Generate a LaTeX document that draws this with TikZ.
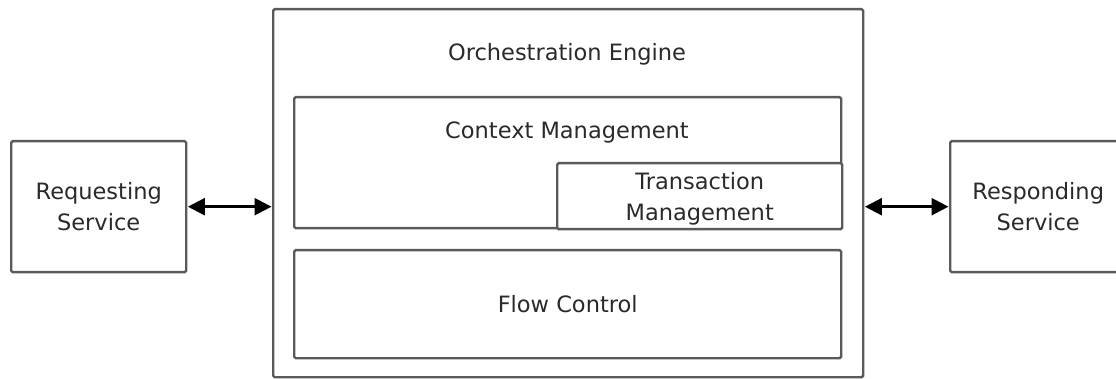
\documentclass[tikz,border=0pt]{standalone}
\usepackage{fontspec}
\setmainfont{DejaVu Sans}
\usetikzlibrary{arrows.meta}
\definecolor{edge}{HTML}{5A5A5A}
\definecolor{ink}{HTML}{2A2A2A}
\begin{document}
\begin{tikzpicture}[x=1pt,y=-1pt,
  box/.style={draw=edge,line width=2.4pt,rounded corners=1.5pt,fill=white,
    inner sep=0pt,anchor=north west,text=ink,align=center,
    font=\fontsize{22.5}{31}\selectfont},
  caption/.style={text=ink,font=\fontsize{22.5}{31}\selectfont,align=center},
  link/.style={draw=black,line width=2.4pt,
    {Triangle[length=17pt,width=17pt]}-{Triangle[length=17pt,width=17pt]},shorten <=0.5pt,shorten >=0.5pt}]
\useasboundingbox (0,0) rectangle (1116,379);
\begin{scope}
\clip (0,0) rectangle (1116,379);
% services
\node[box,minimum width=175pt,minimum height=131pt] (req) at (10,140) {Requesting\\Service};
\node[box,minimum width=176pt,minimum height=131pt] (resp) at (949,140) {Responding\\Service};
% engine and its parts
\node[box,minimum width=590pt,minimum height=368pt] (engine) at (272,8) {};
\node[caption] (enginetitle) at (567,54) {Orchestration Engine};
\node[box,minimum width=547pt,minimum height=131pt] (ctx) at (293,96) {};
\node[caption] (ctxtitle) at (567,132) {Context Management};
% the strut in the first line lowers the two lines a little
\node[box,minimum width=285pt,minimum height=66pt] (txn) at (556,162)
  {\rule{0pt}{23pt}Transaction\\Management};
\node[box,minimum width=547pt,minimum height=108pt] (flow) at (293,249) {Flow Control};
% connectors
\draw[link] (req.east) -- (req.east -| engine.west);
\draw[link] (resp.west -| engine.east) -- (resp.west);
\end{scope}
\end{tikzpicture}
\end{document}
